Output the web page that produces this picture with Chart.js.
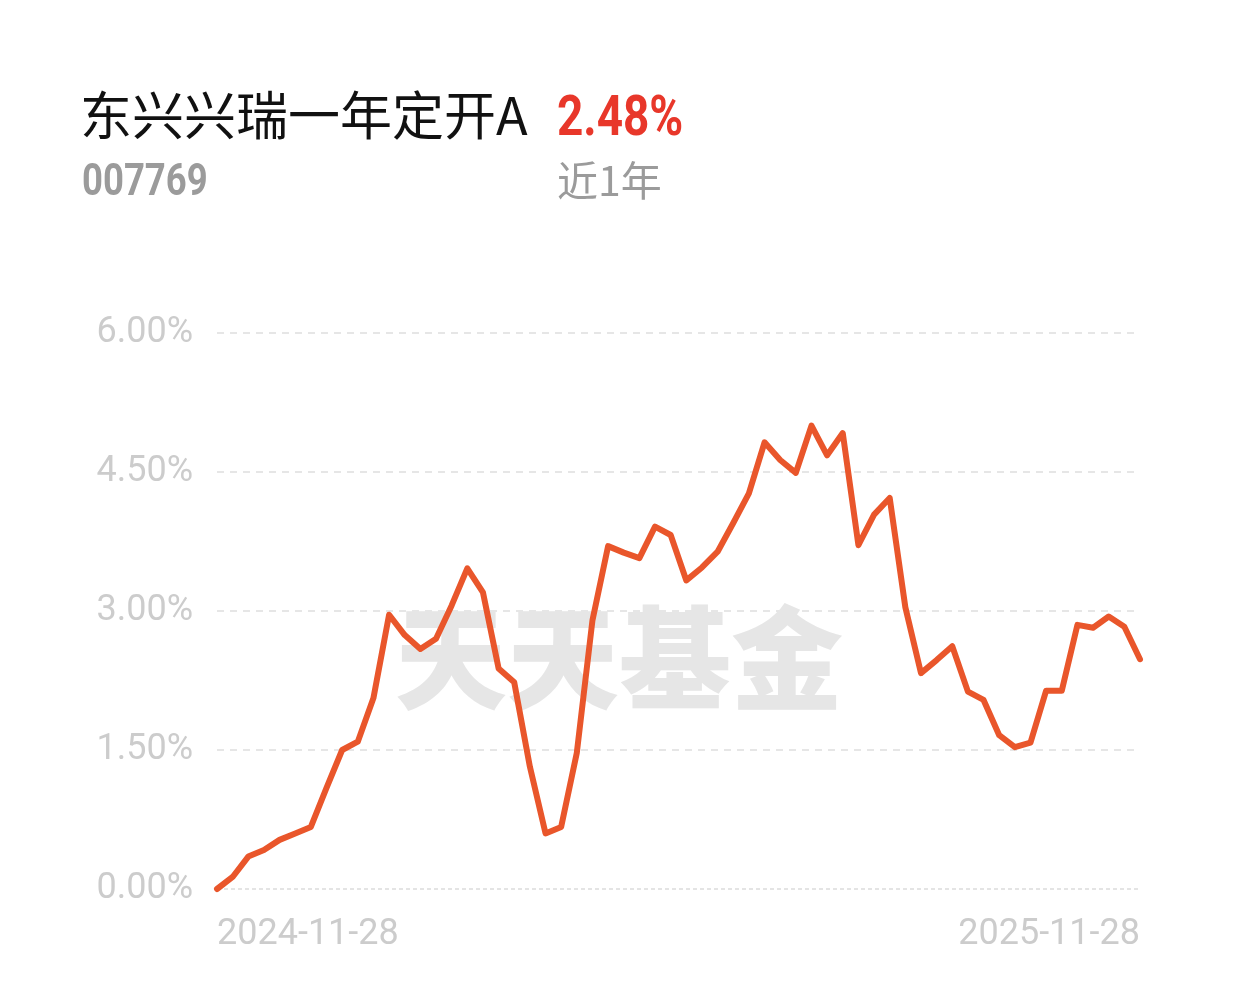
<!DOCTYPE html>
<html>
<head>
<meta charset="utf-8">
<script src="https://cdn.jsdelivr.net/npm/chart.js@4"></script>
<style>
    html, body { margin: 0; padding: 0; background: #fff; }
    body { width: 1235px; height: 1004px; position: relative; overflow: hidden; }
    #wrap { position: absolute; left: 0; top: 0; width: 1235px; height: 1004px; }
    .txt { position: absolute; white-space: nowrap; line-height: 1; }
    #title { left: 80px; top: 75px; font: 400 52px "Noto Sans CJK SC", sans-serif; color: #111; }
    #ret { left: 557px; top: 83px; font: 700 56px Roboto, sans-serif; color: #e8372a; transform: scaleX(0.82); transform-origin: left top; }
    #code { left: 82px; top: 154px; font: 700 44px Roboto, sans-serif; color: #9b9b9b; transform: scaleX(0.83); transform-origin: left top; }
    #period { left: 557px; top: 148px; font: 400 41px "Noto Sans CJK SC", sans-serif; color: #9b9b9b; }
</style>
</head>
<body>
<div id="wrap"><canvas id="chart"></canvas></div>
<div class="txt" id="title">东兴兴瑞一年定开A</div>
<div class="txt" id="ret">2.48%</div>
<div class="txt" id="code">007769</div>
<div class="txt" id="period">近1年</div>

<script>
// Cumulative return (%) over the last year
const returns = [
    0.00, 0.13, 0.35, 0.42, 0.53, 0.60, 0.67, 1.09, 1.50, 1.59,
    2.06, 2.96, 2.74, 2.59, 2.70, 3.06, 3.46, 3.20, 2.38, 2.23,
    1.32, 0.60, 0.67, 1.47, 2.90, 3.70, 3.63, 3.57, 3.91, 3.82,
    3.33, 3.47, 3.64, 3.95, 4.27, 4.82, 4.63, 4.49, 5.00, 4.68,
    4.92, 3.71, 4.04, 4.22, 3.04, 2.33, 2.47, 2.62, 2.13, 2.04,
    1.66, 1.53, 1.58, 2.14, 2.14, 2.85, 2.82, 2.94, 2.83, 2.48
];
const dateLabels = ['2024-11-28', '2025-11-28'];
const yTicks = [0, 1.5, 3, 4.5, 6];
const watermark = '天天基金';

/**
 * Watermark and the finer zero line, drawn under the series
 */
const backdropPlugin = {
    id: 'backdrop',
    beforeDatasetsDraw(chart) {
        const { ctx, chartArea } = chart;
        const y0 = chart.scales.y.getPixelForValue(0);

        ctx.save();
        ctx.fillStyle = '#e6e6e6';
        ctx.font = '900 112px "Noto Sans CJK SC", sans-serif';
        ctx.textAlign = 'center';
        ctx.textBaseline = 'middle';
        ctx.fillText(watermark, 619, 658);

        ctx.strokeStyle = '#e4e4e4';
        ctx.lineWidth = 2;
        ctx.setLineDash([4, 3]);
        ctx.beginPath();
        ctx.moveTo(chartArea.left, y0);
        ctx.lineTo(chartArea.right, y0);
        ctx.stroke();
        ctx.restore();
    }
};

const points = returns.map((v, i) => ({ x: i, y: v }));

new Chart(document.getElementById('chart').getContext('2d'), {
    type: 'line',
    data: {
        datasets: [{
            data: points,
            borderColor: '#e9562b',
            borderWidth: 6,
            borderJoinStyle: 'round',
            borderCapStyle: 'round',
            pointRadius: 0,
            tension: 0,
            fill: false,
            clip: false
        }]
    },
    options: {
        responsive: true,
        maintainAspectRatio: false,
        animation: false,
        events: [],
        layout: {
            padding: { top: 333, right: 95, left: 0, bottom: 0 }
        },
        plugins: {
            legend: { display: false },
            tooltip: { enabled: false }
        },
        scales: {
            x: {
                type: 'linear',
                min: 0,
                max: returns.length - 1,
                afterBuildTicks: scale => {
                    scale.ticks = [{ value: 0 }, { value: returns.length - 1 }];
                },
                afterFit: scale => { scale.height = 115; },
                grid: { display: false, drawTicks: false },
                border: { display: false },
                ticks: {
                    autoSkip: false,
                    maxRotation: 0,
                    align: 'inner',
                    padding: 24,
                    color: '#cccccc',
                    font: { family: 'Roboto, sans-serif', size: 36 },
                    callback: (value, index) => dateLabels[index]
                }
            },
            y: {
                min: 0,
                max: 6,
                afterBuildTicks: scale => {
                    scale.ticks = yTicks.map(v => ({ value: v }));
                },
                afterFit: scale => { scale.width = 217; },
                grid: {
                    drawTicks: false,
                    lineWidth: 2,
                    color: ctx => ctx.tick && ctx.tick.value === 0 ? 'rgba(0,0,0,0)' : '#e6e6e6'
                },
                border: { display: false, dash: [7, 6] },
                ticks: {
                    padding: 24,
                    color: '#cccccc',
                    font: { family: 'Roboto, sans-serif', size: 36 },
                    callback: v => v.toFixed(2) + '%'
                }
            }
        }
    },
    plugins: [backdropPlugin]
});
</script>
</body>
</html>
